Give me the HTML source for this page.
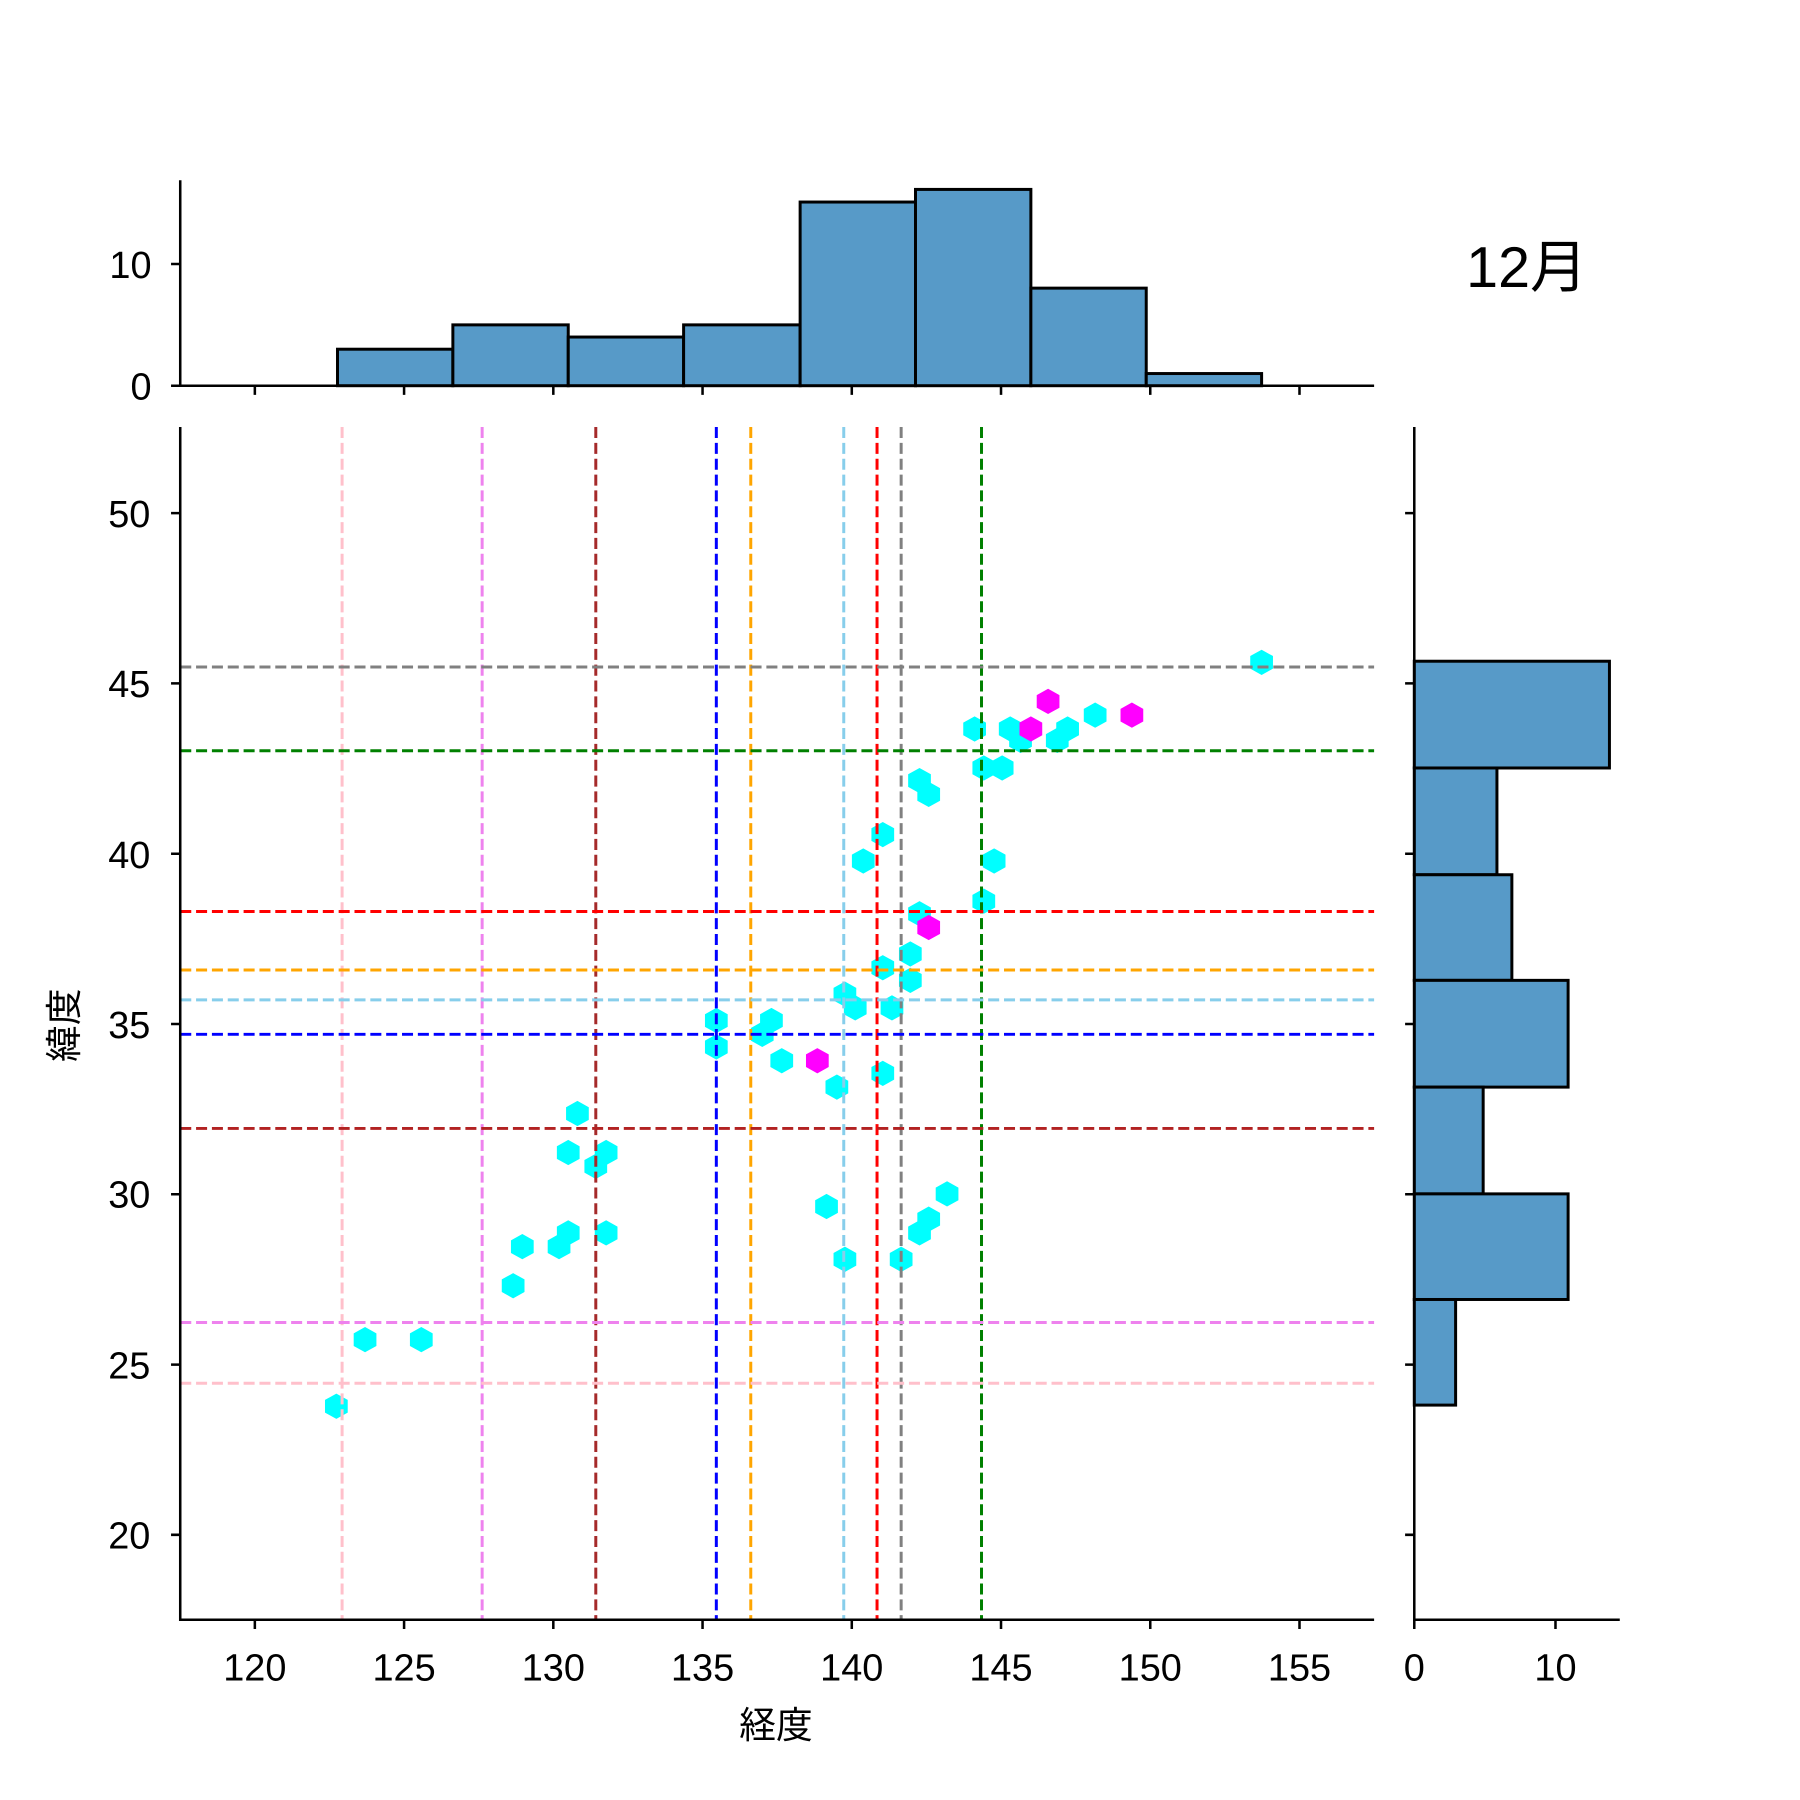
<!DOCTYPE html>
<html><head><meta charset="utf-8"><style>html,body{margin:0;padding:0;background:#fff}svg{display:block}</style></head>
<body>
<svg width="1800" height="1800" viewBox="0 0 1568 1568" xmlns="http://www.w3.org/2000/svg" font-family="'Liberation Sans','Noto Sans CJK JP',sans-serif">
<defs>
<polygon id="h" points="0,-11 9.9,-5.5 9.9,5.5 0,11 -9.9,5.5 -9.9,-5.5"/>
</defs>
<rect width="1568" height="1568" fill="#fff"/>
<g fill="#579ac8" stroke="#000" stroke-width="2.6">
<rect x="294" y="304.2" width="100.5" height="31.8"/>
<rect x="394.5" y="283" width="100.5" height="53"/>
<rect x="495" y="293.6" width="100.5" height="42.4"/>
<rect x="595.5" y="283" width="101.5" height="53"/>
<rect x="697" y="176" width="100.5" height="160"/>
<rect x="797.5" y="165" width="100.5" height="171"/>
<rect x="898" y="251" width="100.5" height="85"/>
<rect x="998.5" y="325.4" width="100.5" height="10.6"/>
</g>
<g stroke="#000" stroke-width="2.2" fill="none">
<path d="M157,157 V336 H1197"/>
<path d="M149,336 H157 M149,230 H157"/>
<path d="M222,336 v8 M352,336 v8 M482,336 v8 M612,336 v8 M742,336 v8 M872,336 v8 M1002,336 v8 M1132,336 v8"/>
</g>
<g font-size="33" text-anchor="end">
<text x="132" y="348">0</text><text x="132" y="242">10</text>
</g>
<text x="1330" y="250" font-size="50" text-anchor="middle">12月</text>
<g fill="#579ac8" stroke="#000" stroke-width="2.6">
<rect x="1232" y="576" width="170" height="93"/>
<rect x="1232" y="669" width="72" height="93"/>
<rect x="1232" y="762" width="85" height="92"/>
<rect x="1232" y="854" width="134" height="93"/>
<rect x="1232" y="947" width="60" height="93"/>
<rect x="1232" y="1040" width="134" height="92"/>
<rect x="1232" y="1132" width="36" height="92"/>
</g>
<g stroke="#000" stroke-width="2.2" fill="none">
<path d="M1232,372 V1411 H1411"/>
<path d="M1232,1411 v8 M1355,1411 v8"/>
<path d="M1224,447 h8 M1224,595.3 h8 M1224,743.7 h8 M1224,892 h8 M1224,1040.3 h8 M1224,1188.7 h8 M1224,1337 h8"/>
</g>
<g font-size="33" text-anchor="middle">
<text x="1232" y="1464">0</text><text x="1355" y="1464">10</text>
</g>
<g fill="#00ffff">
<use href="#h" x="1099" y="577"/><use href="#h" x="849" y="635"/><use href="#h" x="880" y="635"/><use href="#h" x="889" y="645"/><use href="#h" x="921" y="645"/><use href="#h" x="930" y="635"/><use href="#h" x="954" y="623"/><use href="#h" x="857" y="669"/><use href="#h" x="873" y="669"/><use href="#h" x="801" y="680"/><use href="#h" x="809" y="692"/><use href="#h" x="769" y="727"/><use href="#h" x="752" y="750"/><use href="#h" x="866" y="750"/><use href="#h" x="857" y="785"/><use href="#h" x="801" y="796"/><use href="#h" x="793" y="831"/><use href="#h" x="769" y="843"/><use href="#h" x="793" y="854"/><use href="#h" x="736" y="866"/><use href="#h" x="745" y="878"/><use href="#h" x="777" y="878"/><use href="#h" x="624" y="889"/><use href="#h" x="624" y="912"/><use href="#h" x="664" y="901"/><use href="#h" x="672" y="889"/><use href="#h" x="681" y="924"/><use href="#h" x="729" y="947"/><use href="#h" x="769" y="935"/><use href="#h" x="503" y="970"/><use href="#h" x="495" y="1004"/><use href="#h" x="528" y="1004"/><use href="#h" x="519" y="1016"/><use href="#h" x="825" y="1040"/><use href="#h" x="720" y="1051"/><use href="#h" x="809" y="1062"/><use href="#h" x="801" y="1074"/><use href="#h" x="495" y="1074"/><use href="#h" x="528" y="1074"/><use href="#h" x="455" y="1086"/><use href="#h" x="487" y="1086"/><use href="#h" x="736" y="1097"/><use href="#h" x="785" y="1097"/><use href="#h" x="447" y="1120"/><use href="#h" x="318" y="1167"/><use href="#h" x="367" y="1167"/><use href="#h" x="293" y="1225"/>
</g>
<g fill="#ff00ff">
<use href="#h" x="913" y="611"/><use href="#h" x="898" y="635"/><use href="#h" x="986" y="623"/><use href="#h" x="809" y="808"/><use href="#h" x="712" y="924"/>
</g>
<g stroke-width="2.6" stroke-dasharray="9.6,4.2" fill="none">
<path stroke="pink" d="M298,372 V1411"/>
<path stroke="violet" d="M420,372 V1411"/>
<path stroke="#a52a2a" d="M519,372 V1411"/>
<path stroke="blue" d="M624,372 V1411"/>
<path stroke="orange" d="M654,372 V1411"/>
<path stroke="skyblue" d="M735,372 V1411"/>
<path stroke="red" d="M764,372 V1411"/>
<path stroke="gray" d="M785,372 V1411"/>
<path stroke="green" d="M855,372 V1411"/>
<path stroke="gray" d="M157,581 H1197"/>
<path stroke="green" d="M157,654 H1197"/>
<path stroke="red" d="M157,794 H1197"/>
<path stroke="orange" d="M157,845 H1197"/>
<path stroke="skyblue" d="M157,871 H1197"/>
<path stroke="blue" d="M157,901 H1197"/>
<path stroke="#b22222" d="M157,983 H1197"/>
<path stroke="violet" d="M157,1152 H1197"/>
<path stroke="pink" d="M157,1205 H1197"/>
</g>
<g stroke="#000" stroke-width="2.2" fill="none">
<path d="M157,372 V1411 H1197"/>
<path d="M222,1411 v8 M352,1411 v8 M482,1411 v8 M612,1411 v8 M742,1411 v8 M872,1411 v8 M1002,1411 v8 M1132,1411 v8"/>
<path d="M149,447 h8 M149,595.3 h8 M149,743.7 h8 M149,892 h8 M149,1040.3 h8 M149,1188.7 h8 M149,1337 h8"/>
</g>
<g font-size="33" text-anchor="middle">
<text x="222" y="1464">120</text><text x="352" y="1464">125</text><text x="482" y="1464">130</text><text x="612" y="1464">135</text><text x="742" y="1464">140</text><text x="872" y="1464">145</text><text x="1002" y="1464">150</text><text x="1132" y="1464">155</text>
</g>
<g font-size="33" text-anchor="end">
<text x="131" y="459">50</text><text x="131" y="607">45</text><text x="131" y="756">40</text><text x="131" y="904">35</text><text x="131" y="1052">30</text><text x="131" y="1201">25</text><text x="131" y="1349">20</text>
</g>
<text x="676" y="1514" font-size="32" text-anchor="middle">経度</text>
<text transform="translate(67,893) rotate(-90)" font-size="32" text-anchor="middle">緯度</text>
</svg>
</body></html>
